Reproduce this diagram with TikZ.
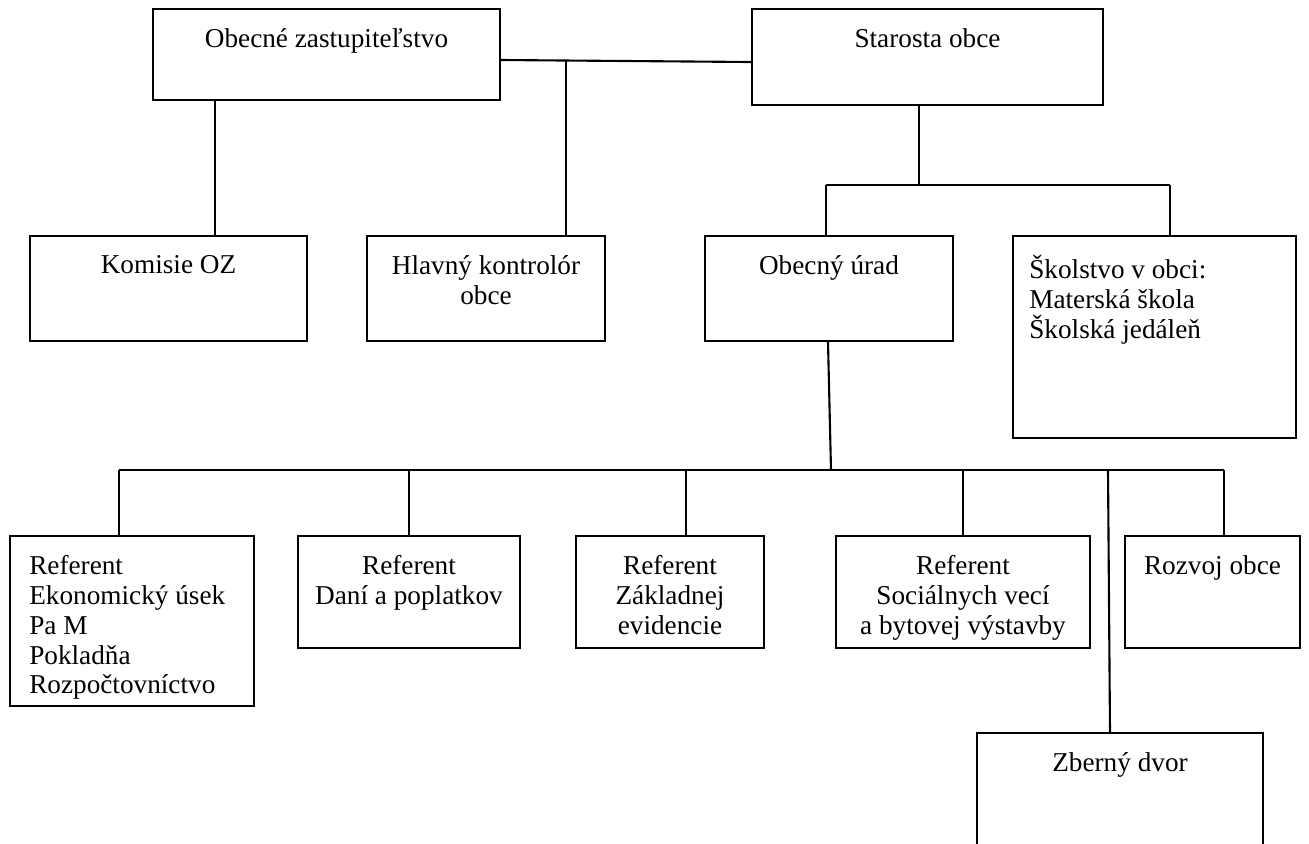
\documentclass[tikz,border=0pt]{standalone}
\usepackage{fontspec}
\setmainfont{Liberation Serif}
\usetikzlibrary{positioning,fit}
\tikzset{
  orgbox/.style = {draw=black, line width=1.2pt, inner sep=0pt},
  orgtxt/.style = {inner sep=0pt, align=center,
    font=\fontsize{15.5}{17}\selectfont},% text centered at the top of a box
  orgtxtl/.style = {orgtxt, align=left},% text on the left of a box
  conn/.style = {line width=1.2pt}
}
\begin{document}
\begin{tikzpicture}[x=0.02cm, y=-0.02cm]
  \useasboundingbox (0,0) rectangle (1309,843);
  % top row
  \node [orgbox, fit={(153,9) (500,100)}] (oz) {};
  \node [orgbox, fit={(752,9) (1103,105)}] (st) {};
  % second row
  \node [orgbox, fit={(30,236) (307,341)}] (kom) {};
  \node [orgbox, fit={(367,236) (605,341)}] (hk) {};
  \node [orgbox, fit={(705,236) (953,341)}] (ou) {};
  \node [orgbox, fit={(1013,236) (1296,438)}] (sk) {};
  % referents
  \node [orgbox, fit={(10,536) (254,706)}] (ref1) {};
  \node [orgbox, fit={(298,536) (520,648)}] (ref2) {};
  \node [orgbox, fit={(576,536) (764,648)}] (ref3) {};
  \node [orgbox, fit={(836,536) (1090,648)}] (ref4) {};
  \node [orgbox, fit={(1125,536) (1300,648)}] (roz) {};
  \node [orgbox, fit={(977,733) (1263,850)}] (zd) {};

  % texts
  \node [orgtxt, below=4mm of oz.north] (oz-t) {Obecné zastupiteľstvo};
  \node [orgtxt, below=4mm of st.north] (st-t) {Starosta obce};
  \node [orgtxt, below=4mm of kom.north] (kom-t) {Komisie OZ};
  \node [orgtxt, below=4mm of hk.north] (hk-t) {Hlavný kontrolór\\obce};
  \node [orgtxt, below=4mm of ou.north] (ou-t) {Obecný úrad};
  \node [orgtxtl, anchor=north west] (sk-t) at ([shift={(17,20)}]sk.north west)
    {Školstvo v obci:\\Materská škola\\Školská jedáleň};
  \node [orgtxtl, anchor=north west] (ref1-t) at ([shift={(20,20)}]ref1.north west)
    {Referent\\Ekonomický úsek\\Pa M\\Pokladňa\\Rozpočtovníctvo};
  \node [orgtxt, below=4mm of ref2.north] (ref2-t) {Referent\\Daní a poplatkov};
  \node [orgtxt, below=4mm of ref3.north] (ref3-t) {Referent\\Základnej\\evidencie};
  \node [orgtxt, below=4mm of ref4.north] (ref4-t) {Referent\\Sociálnych vecí\\a bytovej výstavby};
  \node [orgtxt, below=4mm of roz.north] (roz-t) {Rozvoj obce};
  \node [orgtxt, below=4mm of zd.north] (zd-t) {Zberný dvor};

  % junction points
  \coordinate (xkom) at (215,0);
  \coordinate (xhk) at (566,0);
  \coordinate (ozst) at (566,61);
  \coordinate (xst) at (919,0);
  \coordinate (stbar) at (919,185);
  \coordinate (xou) at (826,0);
  \coordinate (xsk) at (1170,0);
  \coordinate (oubar) at (831,470);
  \coordinate (ouend) at (828,0);
  \coordinate (x1) at (119,0);
  \coordinate (x3) at (686,0);
  \coordinate (x5) at (1224,0);
  \coordinate (zdtop) at (1108,470);
  \coordinate (zdend) at (1110,0);

  % connectors
  \draw [conn] (oz.east |- 0,60) -- (st.west |- 0,62);
  \draw [conn] (xkom |- oz.south) -- (xkom |- kom.north);
  \draw [conn] (ozst) -- (xhk |- hk.north);
  \draw [conn] (xst |- st.south) -- (stbar);
  \draw [conn] (xou |- stbar) -- (xsk |- stbar);
  \draw [conn] (xou |- stbar) -- (xou |- ou.north);
  \draw [conn] (xsk |- stbar) -- (xsk |- sk.north);
  \draw [conn] (ouend |- ou.south) -- (oubar);
  \draw [conn] (x1 |- oubar) -- (x5 |- oubar);
  \draw [conn] (x1 |- oubar) -- (x1 |- ref1.north);
  \draw [conn] (ref2.north |- oubar) -- (ref2.north);
  \draw [conn] (x3 |- oubar) -- (x3 |- ref3.north);
  \draw [conn] (ref4.north |- oubar) -- (ref4.north);
  \draw [conn] (x5 |- oubar) -- (x5 |- roz.north);
  \draw [conn] (zdtop) -- (zdend |- zd.north);
\end{tikzpicture}
\end{document}
